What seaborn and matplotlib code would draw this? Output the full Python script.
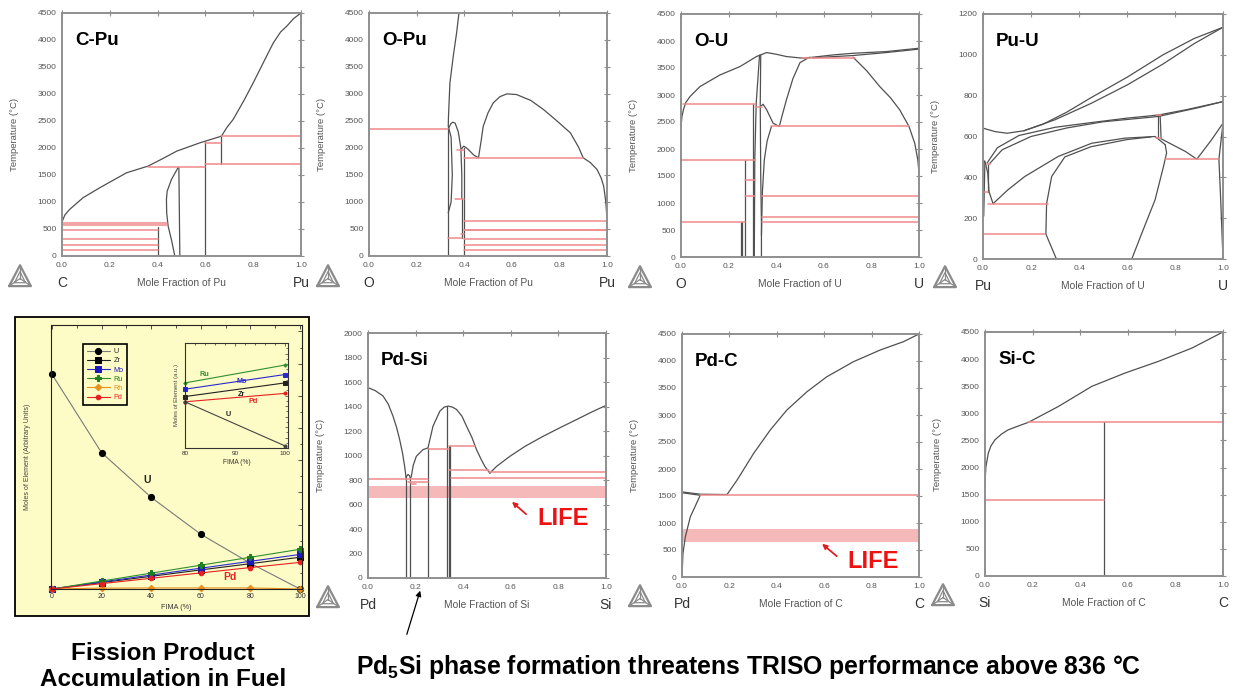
import matplotlib
matplotlib.use("Agg")
import matplotlib.pyplot as plt
import seaborn as sns
from matplotlib.patches import Rectangle, FancyArrowPatch

sns.set_theme(style="white")
plt.rcParams["font.family"] = ["Liberation Sans", "DejaVu Sans"]
plt.rcParams["mathtext.fontset"] = "custom"
plt.rcParams["mathtext.rm"] = "Liberation Sans"
plt.rcParams["mathtext.bf"] = "Liberation Sans:bold"
plt.rcParams["mathtext.default"] = "bf"

# ---------------------------------------------------------------- C-Pu
CPU_LIQUIDUS = [(0, 629), (0.012, 760), (0.032, 863), (0.088, 1079), (0.158, 1264),
                (0.27, 1541), (0.36, 1665), (0.42, 1800), (0.48, 1942), (0.577, 2096),
                (0.667, 2219), (0.69, 2380), (0.716, 2528), (0.76, 2870), (0.8, 3206),
                (0.84, 3560), (0.884, 3946), (0.915, 4150), (0.94, 4254), (0.97, 4400),
                (1.0, 4500)]
CPU_SESQUI = [(0.486, 1640), (0.458, 1418), (0.44, 1200), (0.437, 1048), (0.438, 800),
              (0.444, 555), (0.458, 300), (0.472, 0)]
CPU_VERTICALS = [[(0.493, 0), (0.489, 1640)], [(0.6, 0), (0.6, 2120)],
                 [(0.667, 1708), (0.667, 2219)], [(0.4, 0), (0.4, 540)]]
CPU_TIES = [(0.667, 1.0, 2219), (0.6, 1.0, 1708), (0.6, 0.667, 2096), (0.36, 0.6, 1646),
            (0, 0.44, 615), (0, 0.44, 580), (0, 0.4, 475), (0, 0.4, 308), (0, 0.4, 203),
            (0, 0.4, 111)]

# ---------------------------------------------------------------- O-Pu
OPU_STEEP = [(0.333, 2400), (0.334, 2589), (0.34, 3206), (0.354, 3699), (0.368, 4131),
             (0.378, 4500)]
OPU_LENS = [(0.333, 800), (0.345, 1000), (0.35, 1500), (0.345, 2200), (0.335, 2370),
            (0.344, 2450), (0.352, 2478), (0.362, 2460), (0.375, 2300), (0.386, 2000),
            (0.39, 1500), (0.39, 1060)]
OPU_DOME = [(0.388, 1980), (0.398, 2034), (0.41, 2000), (0.424, 1942), (0.44, 1870),
            (0.46, 1819), (0.47, 2100), (0.48, 2404), (0.5, 2650), (0.522, 2836),
            (0.55, 2950), (0.579, 3002), (0.62, 2990), (0.68, 2880), (0.733, 2713),
            (0.79, 2500), (0.846, 2281), (0.88, 2020), (0.9, 1819), (0.93, 1730),
            (0.958, 1603), (0.975, 1450), (0.986, 1295), (0.995, 1000), (1.0, 678)]
OPU_VERTICALS = [[(0.333, 0), (0.333, 2400)], [(0.4, 0), (0.4, 2000)],
                 [(0.39, 330), (0.39, 1060)]]
OPU_TIES = [(0, 0.333, 2354), (0.37, 0.4, 1955), (0.4, 0.9, 1819), (0.36, 0.4, 1060),
            (0.333, 0.39, 333), (0.385, 0.4, 413), (0.4, 1.0, 647), (0.4, 1.0, 490),
            (0.4, 1.0, 475), (0.4, 1.0, 308), (0.4, 1.0, 197), (0.4, 1.0, 111)]

# ---------------------------------------------------------------- O-U
OU_LIQUIDUS = [(0, 2417), (0.004, 2600), (0.01, 2725), (0.02, 2860), (0.038, 2972),
               (0.08, 3157), (0.164, 3372), (0.248, 3527), (0.317, 3712), (0.36, 3786),
               (0.40, 3755), (0.443, 3712), (0.513, 3681), (0.555, 3700), (0.64, 3743),
               (0.723, 3773), (0.863, 3804), (1.0, 3866)]
OU_LIQUIDUS_2 = [(0.555, 3690), (0.72, 3730), (0.86, 3785), (1.0, 3850)]
OU_WEDGE_L = [(0.33, 3740), (0.316, 2850), (0.31, 1800), (0.308, 0)]
OU_WEDGE_R = [(0.335, 3740), (0.333, 2830), (0.335, 1500), (0.338, 600), (0.338, 0)]
OU_HYPER = [(0.338, 400), (0.342, 1200), (0.35, 1800), (0.362, 2150), (0.38, 2417)]
OU_BUMP = [(0.338, 2800), (0.345, 2830), (0.36, 2725), (0.387, 2478), (0.413, 2417),
           (0.425, 2620), (0.443, 2910), (0.47, 3300), (0.5, 3600), (0.54, 3700)]
OU_DOME_R = [(0.723, 3700), (0.78, 3450), (0.835, 3157), (0.88, 2950), (0.919, 2725),
             (0.958, 2417), (0.982, 2108), (0.995, 1800), (1.0, 1553)]
OU_VERTICALS = [[(0.25, 0), (0.25, 647)], [(0.256, 0), (0.256, 647)],
                [(0.27, 0), (0.27, 1800)], [(0.304, 0), (0.304, 2836)]]
OU_TIES = [(0.01, 0.31, 2836), (0, 0.31, 1800), (0, 0.27, 647), (0.27, 0.31, 1430),
           (0.27, 0.31, 1122), (0.38, 0.96, 2417), (0.34, 1.0, 1122), (0.34, 1.0, 740),
           (0.34, 1.0, 647), (0.51, 0.73, 3687), (0.31, 0.34, 2787)]

# ---------------------------------------------------------------- Pu-U
PUU_LIQUIDUS = [(0, 641), (0.05, 624), (0.1, 616), (0.17, 628), (0.25, 660), (0.35, 720),
                (0.45, 790), (0.6, 890), (0.75, 1000), (0.88, 1080), (1.0, 1135)]
PUU_SOLIDUS = [(0.17, 628), (0.3, 682), (0.45, 762), (0.6, 852), (0.75, 955),
               (0.88, 1055), (1.0, 1135)]
PUU_GAMMA_1 = [(0.017, 470), (0.06, 545), (0.15, 605), (0.3, 645), (0.45, 668),
               (0.6, 690), (0.73, 705), (0.85, 732), (1.0, 771)]
PUU_GAMMA_2 = [(0.022, 460), (0.08, 535), (0.2, 600), (0.35, 642), (0.5, 672),
               (0.73, 698), (0.9, 742), (1.0, 771)]
PUU_ZETA_OUT = [(0.042, 271), (0.104, 339), (0.174, 404), (0.313, 502), (0.453, 567),
                (0.592, 592), (0.717, 600), (0.759, 560)]
PUU_ZETA_IN = [(0.265, 271), (0.286, 404), (0.341, 500), (0.45, 550), (0.6, 585),
               (0.7, 598)]
PUU_ZETA_R = [(0.62, 0), (0.662, 127), (0.717, 290), (0.752, 453), (0.765, 520),
              (0.759, 560)]
PUU_ETA = [(0.265, 271), (0.262, 122), (0.306, 0)]
PUU_EUTECTOID = [(0.74, 590), (0.843, 527), (0.891, 489), (0.95, 580), (1.0, 665)]
PUU_U_EDGE = [(1.0, 665), (0.983, 489), (0.99, 300), (1.0, 0)]
PUU_DELTA = [(0, 486), (0.01, 470), (0.02, 420), (0.025, 330), (0.042, 271)]
PUU_VERTICALS = [[(0.73, 592), (0.73, 706)], [(0.742, 592), (0.738, 706)],
                 [(0.022, 460), (0.022, 330)], [(0.003, 210), (0.008, 480)]]
PUU_TIES = [(0, 0.02, 326), (0.02, 0.27, 271), (0, 0.26, 122), (0.76, 0.98, 489),
            (0.72, 0.74, 706), (0.72, 0.74, 592), (0.015, 0.03, 465)]

# ---------------------------------------------------------------- Pd-Si
PDSI_LIQ_LEFT = [(0, 1554), (0.03, 1530), (0.063, 1486), (0.085, 1420), (0.105, 1321),
                 (0.12, 1230), (0.133, 1130), (0.145, 1020), (0.154, 911), (0.161, 802)]
PDSI_LOOP = [(0.16, 802), (0.162, 830), (0.168, 845), (0.175, 835), (0.178, 810)]
PDSI_LIQ_MID = [(0.178, 810), (0.182, 829), (0.19, 920), (0.203, 993), (0.231, 1048),
                (0.252, 1062), (0.273, 1239), (0.302, 1362), (0.32, 1395), (0.337, 1403),
                (0.355, 1395), (0.372, 1376), (0.395, 1320), (0.414, 1239), (0.436, 1150),
                (0.456, 1048), (0.475, 970), (0.491, 911), (0.512, 856)]
PDSI_LIQ_RIGHT = [(0.512, 856), (0.54, 911), (0.596, 993), (0.66, 1075), (0.736, 1157),
                  (0.81, 1230), (0.877, 1294), (0.94, 1355), (1.0, 1409)]
PDSI_VERTICALS = [[(0.16, 0), (0.16, 800)], [(0.175, 0), (0.175, 810)],
                  [(0.25, 0), (0.25, 1060)], [(0.333, 0), (0.333, 1403)],
                  [(0.34, 0), (0.34, 1078)], [(0.345, 0), (0.345, 1078)]]
PDSI_TIES = [(0, 0.25, 807), (0.17, 0.25, 785), (0.18, 0.2, 770), (0.25, 0.34, 1053),
             (0.34, 0.45, 1075), (0.34, 0.51, 884), (0.51, 1.0, 862), (0.35, 1.0, 815)]
PDSI_LIFE = (650, 750)

# ---------------------------------------------------------------- Pd-C
PDC_LIQUIDUS = [(0, 1576), (0.077, 1533), (0.19, 1527), (0.232, 1792), (0.302, 2287),
                (0.372, 2720), (0.442, 3090), (0.527, 3430), (0.611, 3708), (0.723, 3986),
                (0.836, 4203), (0.934, 4357), (1.0, 4500)]
PDC_SOLVUS = [(0, 0), (0.004, 433), (0.014, 742), (0.035, 1112), (0.077, 1514), (0, 1560)]
PDC_TIES = [(0.077, 1.0, 1514)]
PDC_LIFE = (650, 880)

# ---------------------------------------------------------------- Si-C
SIC_LIQUIDUS = [(0, 1743), (0.004, 2020), (0.014, 2266), (0.025, 2400), (0.042, 2512),
                (0.07, 2620), (0.098, 2697), (0.154, 2789), (0.182, 2833), (0.309, 3128),
                (0.449, 3498), (0.589, 3744), (0.729, 3959), (0.87, 4205), (1.0, 4500)]
SIC_VERTICALS = [[(0.5, 0), (0.5, 2833)]]
SIC_TIES = [(0.18, 1.0, 2833), (0, 0.5, 1404)]

# ---------------------------------------------------------------- fission products
FIMA = [0, 20, 40, 60, 80, 100]
U_MOLES = [10.0, 6.35, 4.27, 2.55, 1.2, 0.0]
ZR_MOLES = [0, 0.30, 0.59, 0.89, 1.18, 1.48]
MO_MOLES = [0, 0.33, 0.65, 0.97, 1.29, 1.61]
RU_MOLES = [0, 0.37, 0.74, 1.11, 1.48, 1.85]
RH_MOLES = [0, 0.04, 0.05, 0.05, 0.05, 0.0]
PD_MOLES = [0, 0.25, 0.50, 0.75, 1.0, 1.24]
ELEMENTS = ["U", "Zr", "Mo", "Ru", "Rh", "Pd"]

INSET_FIMA = [80, 100]
INSET_U = [0.44, 0.02]
INSET_ZR = [0.49, 0.62]
INSET_MO = [0.56, 0.70]
INSET_RU = [0.62, 0.79]
INSET_PD = [0.44, 0.52]

# ---------------------------------------------------------------- styling
W, H = 1233, 698
GREY = "#505050"
TIE_RED = "#f08a8a"
BAND = "#f5b9b9"
AXIS_GREY = "#8f8f8f"
LABEL_GREY = "#555555"
YELLOW = "#fdfbc6"

fig = plt.figure(figsize=(W / 100, H / 100), dpi=100)
fig.patch.set_facecolor("white")


def rect(x0, y0, x1, y1):
    return [x0 / W, 1 - y1 / H, (x1 - x0) / W, (y1 - y0) / H]


def draw_curve(ax, pts, color, lw, alpha=1.0):
    xs = [p[0] for p in pts]
    ts = [p[1] for p in pts]
    sns.lineplot(x=xs, y=ts, sort=False, estimator=None, color=color, lw=lw,
                 alpha=alpha, ax=ax, legend=False)


def logo(cx, cy, size=24):
    la = fig.add_axes(rect(cx - size / 2, cy - size / 2, cx + size / 2, cy + size / 2))
    la.set_axis_off()
    la.set_xlim(-1.1, 1.1)
    la.set_ylim(-0.75, 1.15)
    tri_x = [-1, 1, 0, -1]
    tri_y = [-0.6, -0.6, 1.05, -0.6]
    la.plot(tri_x, tri_y, color="#8a8a8a", lw=1.6)
    inner_x = [-0.5, 0.5, 0, -0.5]
    inner_y = [-0.33, -0.33, 0.55, -0.33]
    la.plot(inner_x, inner_y, color="#8a8a8a", lw=0.9)
    for vx, vy in [(-1, -0.6), (1, -0.6), (0, 1.05)]:
        la.plot([0, vx], [0, vy], color="#8a8a8a", lw=0.9)


def phase_panel(box, title, elems, xlabel, ymax, ystep, curves, ties, band=None, life=None):
    ax = fig.add_axes(rect(*box))
    ax.set_facecolor("white")
    if band is not None:
        ax.fill_between([0, 1], [band[0]] * 2, [band[1]] * 2, color=BAND, lw=0, zorder=1)
    for pts in curves:
        draw_curve(ax, pts, GREY, 0.9)
    for x0, x1, t in ties:
        draw_curve(ax, [(x0, t), (x1, t)], TIE_RED, 1.1)
    ax.set_xlim(0, 1)
    ax.set_ylim(0, ymax)
    ax.set_xticks([0, 0.2, 0.4, 0.6, 0.8, 1.0])
    ax.set_xticklabels(["0.0", "0.2", "0.4", "0.6", "0.8", "1.0"])
    ax.set_yticks(list(range(0, ymax + 1, ystep)))
    ax.tick_params(direction="inout", length=5, width=0.8, colors=AXIS_GREY,
                   labelcolor=LABEL_GREY, labelsize=6, top=True, right=True, pad=2)
    ax.tick_params(axis="y", pad=1.5)
    for s in ax.spines.values():
        s.set_color(AXIS_GREY)
        s.set_linewidth(1.4)
    ax.set_xlabel("")
    ax.set_ylabel("Temperature (°C)", fontsize=6.8, color=LABEL_GREY)
    ax.yaxis.set_label_coords(-43 / (box[2] - box[0]), 0.5)
    ax.annotate(xlabel, xy=(0.5, 0), xycoords="axes fraction", xytext=(0, -19.5),
                textcoords="offset points", ha="center", va="center", fontsize=7.4,
                color=LABEL_GREY)
    for x, el in zip((0, 1), elems):
        ax.annotate(el, xy=(x, 0), xycoords=("data", "axes fraction"), xytext=(0, -19.5),
                    textcoords="offset points", ha="center", va="center", fontsize=10,
                    color="#333333")
    ax.text(0.055, 0.87, title, transform=ax.transAxes, fontsize=13.5,
            fontweight="bold", color="black")
    if life is not None:
        (tx, ty), tip, tail = life
        ax.annotate("", xy=tip, xytext=tail,
                    arrowprops=dict(arrowstyle="-|>", color="#e02020", lw=1.3,
                                    mutation_scale=7))
        ax.text(tx, ty, "LIFE", color="#ee1111", fontsize=17, fontweight="bold",
                ha="left", va="center")
    ax.grid(False)
    return ax


# top row
phase_panel((62, 13, 301, 256), "C-Pu", ("C", "Pu"), "Mole Fraction of Pu", 4500, 500,
            [CPU_LIQUIDUS, CPU_SESQUI] + CPU_VERTICALS, CPU_TIES)
phase_panel((369, 13, 607, 256), "O-Pu", ("O", "Pu"), "Mole Fraction of Pu", 4500, 500,
            [OPU_STEEP, OPU_LENS, OPU_DOME] + OPU_VERTICALS, OPU_TIES)
phase_panel((681, 14, 919, 257), "O-U", ("O", "U"), "Mole Fraction of U", 4500, 500,
            [OU_LIQUIDUS, OU_LIQUIDUS_2, OU_WEDGE_L, OU_WEDGE_R, OU_HYPER, OU_BUMP,
             OU_DOME_R] + OU_VERTICALS, OU_TIES)
phase_panel((983, 14, 1223, 259), "Pu-U", ("Pu", "U"), "Mole Fraction of U", 1200, 200,
            [PUU_LIQUIDUS, PUU_SOLIDUS, PUU_GAMMA_1, PUU_GAMMA_2, PUU_ZETA_OUT,
             PUU_ZETA_IN, PUU_ZETA_R, PUU_ETA, PUU_EUTECTOID, PUU_U_EDGE, PUU_DELTA]
            + PUU_VERTICALS, PUU_TIES)

# bottom row
phase_panel((368, 333, 606, 578), "Pd-Si", ("Pd", "Si"), "Mole Fraction of Si", 2000, 200,
            [PDSI_LIQ_LEFT, PDSI_LOOP, PDSI_LIQ_MID, PDSI_LIQ_RIGHT] + PDSI_VERTICALS,
            PDSI_TIES, band=PDSI_LIFE,
            life=((0.71, 482), (0.596, 637), (0.673, 506)))
phase_panel((682, 334, 919, 577), "Pd-C", ("Pd", "C"), "Mole Fraction of C", 4500, 500,
            [PDC_LIQUIDUS, PDC_SOLVUS], PDC_TIES, band=PDC_LIFE,
            life=((0.696, 296), (0.582, 648), (0.662, 352)))
phase_panel((985, 332, 1223, 576), "Si-C", ("Si", "C"), "Mole Fraction of C", 4500, 500,
            [SIC_LIQUIDUS] + SIC_VERTICALS, SIC_TIES)

for cx, cy in [(20, 276), (328, 276), (640, 277), (945, 277),
               (328, 597), (640, 596), (943, 595)]:
    logo(cx, cy)

# ---------------------------------------------------------------- fission product panel
fig.add_artist(Rectangle((15 / W, 1 - 616 / H), (309 - 15) / W, (616 - 317) / H,
                         transform=fig.transFigure, facecolor=YELLOW, edgecolor="black",
                         lw=1.3, zorder=0))
fig.add_artist(Rectangle((310.5 / W, 1 - 620 / H), 0.8 / W, 300 / H,
                         transform=fig.transFigure, facecolor="#9a9a9a", lw=0, zorder=0))

fx = fig.add_axes(rect(51, 325, 302, 589))
fx.set_facecolor(YELLOW)
series = [
    ("U", U_MOLES, "#7a7a7a", "o", "black", 4.4),
    ("Zr", ZR_MOLES, "#222222", "s", "black", 3.8),
    ("Mo", MO_MOLES, "#2a2ad0", "s", "#1a1ac0", 3.8),
    ("Ru", RU_MOLES, "#2f8f2f", "P", "#1f7f1f", 4.0),
    ("Rh", RH_MOLES, "#e8901e", "D", "#e8901e", 3.3),
    ("Pd", PD_MOLES, "#e82020", "o", "#e82020", 3.3),
]
for name, vals, lc, mk, mc, ms in series:
    sns.lineplot(x=FIMA, y=vals, color=lc, marker=mk, markersize=ms, markerfacecolor=mc,
                 markeredgecolor=mc, lw=0.8, ax=fx, label=name, estimator=None,
                 sort=False, clip_on=False)
fx.set_xlim(-0.4, 100.8)
fx.set_ylim(0, 12.3)
fx.set_xticks([0, 20, 40, 60, 80, 100])
fx.set_yticks([1.5 * i for i in range(9)])
fx.set_yticklabels([])
fx.set_xticks([10, 30, 50, 70, 90], minor=True)
fx.set_yticks([0.75 + 1.5 * i for i in range(8)], minor=True)
fx.tick_params(which="both", direction="in", top=True, right=True, colors="#333333",
               labelsize=5, length=3, width=0.6, pad=3)
fx.tick_params(which="minor", length=1.8)
for s in fx.spines.values():
    s.set_color("#222222")
    s.set_linewidth(0.8)
fx.set_xlabel("FIMA (%)", fontsize=5.2, color="#333333", labelpad=3)
fx.set_ylabel("Moles of Element (Arbitrary Units)", fontsize=5, color="#444444")
fx.yaxis.set_label_coords(-0.08, 0.5)
fx.text(38.3, 5.1, "U", fontsize=7.5, fontweight="bold", color="#222222",
        ha="center", va="center")
fx.text(71.8, 0.57, "Pd", fontsize=7.5, fontweight="bold", color="#e82020",
        ha="center", va="center")
leg = fx.legend(loc="upper left", bbox_to_anchor=(0.113, 0.94), fontsize=5.2,
                frameon=True, fancybox=False, edgecolor="black", facecolor=YELLOW,
                framealpha=1, handlelength=3.2, borderpad=0.5, labelspacing=0.3,
                handletextpad=0.5)
leg.get_frame().set_linewidth(1.2)
for txt, (_, _, lc, _, mc, _) in zip(leg.get_texts(), series):
    txt.set_color(mc if mc != "black" else "#222222")
fx.grid(False)

ix = fig.add_axes(rect(185, 343, 288, 448))
ix.set_facecolor(YELLOW)
inset_series = [("Ru", INSET_RU, "#2f8f2f", "P"), ("Mo", INSET_MO, "#2a2ad0", "s"),
                ("Zr", INSET_ZR, "#222222", "s"), ("Pd", INSET_PD, "#e82020", "o"),
                ("U", INSET_U, "#444444", "o")]
for name, vals, lc, mk in inset_series:
    sns.lineplot(x=INSET_FIMA, y=vals, color=lc, marker=mk, markersize=2.2,
                 markerfacecolor=lc, markeredgecolor=lc, lw=0.8, ax=ix, legend=False,
                 estimator=None, clip_on=False)
ix.set_xlim(80, 100.6)
ix.set_ylim(0, 1)
ix.set_xticks([80, 90, 100])
ix.set_xticks([82, 84, 86, 88, 92, 94, 96, 98], minor=True)
ix.set_yticks([i / 10 for i in range(11)])
ix.set_yticks([0.05 + i / 10 for i in range(10)], minor=True)
ix.set_yticklabels([])
ix.tick_params(which="both", direction="in", top=True, right=True, colors="#333333",
               labelsize=4.6, length=2.2, width=0.5, pad=2)
ix.tick_params(which="minor", length=1.2)
for s in ix.spines.values():
    s.set_color("#333333")
    s.set_linewidth(0.8)
ix.set_xlabel("FIMA (%)", fontsize=4.8, color="#333333", labelpad=2)
ix.set_ylabel("Moles of Element (a.u.)", fontsize=4.3, color="#444444", labelpad=2)
for (name, x, y, c) in [("Ru", 83.9, 0.70, "#2f8f2f"), ("Mo", 91.3, 0.63, "#2a2ad0"),
                        ("Zr", 91.3, 0.51, "#222222"), ("Pd", 93.7, 0.44, "#e82020"),
                        ("U", 88.7, 0.32, "#222222")]:
    ix.text(x, y, name, fontsize=5.2, fontweight="bold", color=c, ha="center",
            va="center")
ix.grid(False)

# ---------------------------------------------------------------- captions
fig.text(163 / W, 1 - 654 / H, "Fission Product", ha="center", va="center",
         fontsize=17.5, fontweight="bold", color="black")
fig.text(163 / W, 1 - 679 / H, "Accumulation in Fuel", ha="center", va="center",
         fontsize=17.5, fontweight="bold", color="black")
fig.text(749 / W, 1 - 667 / H, r"Pd$_{5}$Si phase formation threatens TRISO performance above 836 °C",
         ha="center", va="center", fontsize=17.8, fontweight="bold", color="black")
fig.add_artist(FancyArrowPatch((406 / W, 1 - 637 / H), (421 / W, 1 - 588 / H),
                               transform=fig.transFigure, arrowstyle="-|>",
                               mutation_scale=8, color="black", lw=0.9))

fig.savefig("out.png", dpi=100, facecolor="white")
